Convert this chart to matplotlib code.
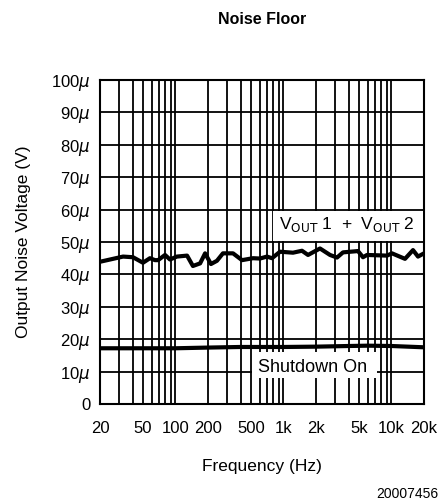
import matplotlib
matplotlib.use("Agg")
import matplotlib.pyplot as plt
from matplotlib.patches import Rectangle
from matplotlib.ticker import FixedLocator, NullFormatter

# Dane (Hz, uV)
freq_sum = [20, 32.7, 40.4, 50, 58, 64.6, 69, 80, 88.9, 103, 128, 145, 169, 188,
            213, 242, 275, 341, 413, 522, 606, 703, 783, 929, 1225, 1483, 1687,
            2178, 2697, 3130, 3557, 4895, 5446, 5934, 9084, 10110, 13340, 15820,
            17600, 20000]
noise_sum = [43.9, 45.5, 45.3, 43.6, 45.0, 44.4, 44.4, 46.0, 44.6, 45.5, 45.8,
             42.6, 43.4, 46.5, 43.2, 44.2, 46.5, 46.5, 44.4, 45.0, 44.9, 45.5,
             45.0, 47.0, 46.7, 47.3, 46.0, 48.0, 46.0, 45.2, 46.8, 47.2, 45.3,
             46.0, 45.8, 46.5, 44.8, 47.5, 45.5, 46.5]

freq_sd = [20, 100, 190, 400, 1000, 2000, 4000, 6000, 10000, 20000]
noise_sd = [17.2, 17.2, 17.4, 17.6, 17.6, 17.7, 17.9, 18.0, 17.9, 17.5]

xticks = [20, 50, 100, 200, 500, 1000, 2000, 5000, 10000, 20000]
xtick_labels = ['20', '50', '100', '200', '500', '1k', '2k', '5k', '10k', '20k']
yticks = list(range(0, 101, 10))
ytick_labels = ['0'] + [f'{v}$\\mu$' for v in yticks[1:]]

plt.rcParams['font.family'] = ['Liberation Sans', 'DejaVu Sans']

fig = plt.figure(figsize=(4.42, 5.04), dpi=100)
ax = fig.add_axes([100 / 442, 1 - 404 / 504, 324 / 442, 324 / 504])

ax.set_xscale('log')
ax.set_xlim(20, 20000)
ax.set_ylim(0, 100)

minor = [m * 10 ** e for e in range(1, 5) for m in range(1, 10)]
ax.xaxis.set_major_locator(FixedLocator(xticks))
ax.xaxis.set_minor_locator(FixedLocator(minor))
ax.xaxis.set_minor_formatter(NullFormatter())
ax.set_xticklabels(xtick_labels)
ax.set_yticks(yticks)
ax.set_yticklabels(ytick_labels)

ax.grid(True, which='both', axis='x', color='black', linewidth=1.3)
ax.grid(True, which='major', axis='y', color='black', linewidth=1.3)
ax.set_axisbelow(True)
ax.tick_params(which='both', length=0, labelsize=12)
ax.tick_params(axis='x', pad=12)
ax.tick_params(axis='y', pad=7)
for s in ax.spines.values():
    s.set_linewidth(1.5)

ax.plot(freq_sum, noise_sum, color='black', linewidth=3, solid_joinstyle='round', zorder=3)
ax.plot(freq_sd, noise_sd, color='black', linewidth=3, solid_joinstyle='round', zorder=3)

# Etykiety krzywych na bialym tle
tr = ax.get_yaxis_transform()
ax.add_patch(Rectangle((0.534, 50.4), 0.462, 9.2, transform=tr, facecolor='white',
                       edgecolor='none', zorder=4))
ax.text(0.762, 55.3, 'V$_{\\mathsf{OUT}}$ 1  +  V$_{\\mathsf{OUT}}$ 2', transform=tr,
        ha='center', va='center', fontsize=12.5, zorder=5)
ax.add_patch(Rectangle((0.469, 8.0), 0.386, 8.0, transform=tr, facecolor='white',
                       edgecolor='none', zorder=4))
ax.text(0.657, 11.3, 'Shutdown On', transform=tr, ha='center', va='center',
        fontsize=13, zorder=5)

ax.set_xlabel('Frequency (Hz)', fontsize=12.5, labelpad=17)
ax.set_ylabel('Output Noise Voltage (V)', fontsize=12.5, labelpad=14)
fig.text(262 / 442, 1 - 20 / 504, 'Noise Floor', ha='center', va='center',
         fontsize=11.5, fontweight='bold')
fig.text(438 / 442, 1 - 494 / 504, '20007456', ha='right', va='center', fontsize=10)

plt.savefig('out.png', dpi=100)
